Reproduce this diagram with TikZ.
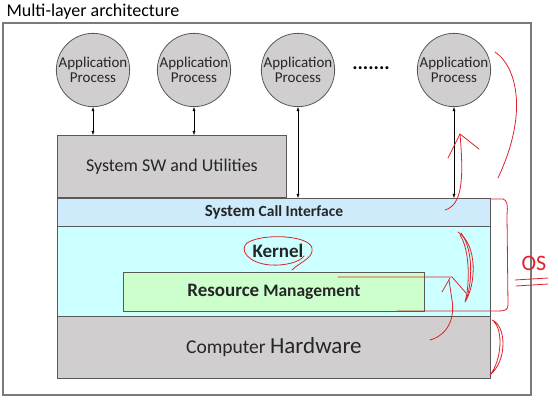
\documentclass[tikz,border=0pt]{standalone}
\usepackage{fontspec}
\setmainfont{Carlito}
\usetikzlibrary{arrows.meta}
\definecolor{boxgray}{HTML}{D0CECE}
\definecolor{callblue}{HTML}{CDEBFA}
\definecolor{kernelcyan}{HTML}{CCFFFF}
\definecolor{resgreen}{HTML}{CCFFCC}
\definecolor{edgegray}{HTML}{595959}
\definecolor{pen}{HTML}{E0202A}
\newcommand{\fs}[1]{\fontsize{#1}{#1}\selectfont}

\begin{document}
\begin{tikzpicture}[x=1pt,y=-1pt,
  proc/.style={circle,draw=edgegray,thick,fill=boxgray,minimum size=72pt,inner sep=0pt,align=center,font=\fs{15},text=black!85},
  layer/.style={draw=edgegray,thick,anchor=north west,inner sep=0pt,text=black!85},
  hand/.style={pen,line width=0.8pt,line cap=round,line join=round}]
\useasboundingbox (0,0) rectangle (558,406);

\node[anchor=west,font=\fs{18}] (title) at (3,12) {Multi-layer architecture};
\draw[edgegray!80,line width=1.4pt] (3,23) rectangle (531,395);

% layers
\node[layer,fill=boxgray,minimum width=229pt,minimum height=62pt,font=\fs{18}] (sw) at (57,135) {System SW and Utilities};
\node[layer,fill=callblue,minimum width=433pt,minimum height=28pt] (sci) at (57,198)
  {\bfseries\fs{15.5}{\fs{17}System} Call Interface};
\node[layer,fill=kernelcyan,minimum width=433pt,minimum height=90pt] (kern) at (57,226) {};
\node[font=\fs{19}\bfseries,text=black!85] (klabel) at (278,251) {Kernel};
\node[layer,fill=resgreen,minimum width=301pt,minimum height=39pt] (res) at (123,272)
  {\bfseries\fs{17.5}{\fs{19}Resource} Management};
\node[layer,fill=boxgray,minimum width=433pt,minimum height=62pt] (hw) at (57,316)
  {\fs{19.5}Computer {\fs{23}Hardware}};

% processes
\foreach \i/\x in {1/93,2/194,3/298,4/454}{
  \node[proc] (p\i) at (\x,70) {Application\\Process};
}
\node[font=\fs{20}\bfseries] (dots) at (371,68) {.......};

\foreach \i in {1,2}{
  \draw[{Latex[length=4pt,width=3pt]}-{Latex[length=4pt,width=3pt]}] (p\i.south) -- (p\i.south |- sw.north);
}
\foreach \i in {3,4}{
  \draw[{Latex[length=4pt,width=3pt]}-{Latex[length=4pt,width=3pt]}] (p\i.south) -- (p\i.south |- sci.north);
}

% hand notes
\draw[hand] (292,270) .. controls (300,262) and (314,258) .. (312,248) .. controls (309,235) and (262,233) .. (247,243) .. controls (239,250) and (248,263) .. (270,265) .. controls (285,266) and (300,262) .. (304,256);
\draw[hand] (495,52) .. controls (515,65) and (530,110) .. (498,178);
\draw[hand] (445,210) .. controls (462,205) and (464,180) .. (460,134);
\draw[hand] (448,158) -- (460,134) -- (479,149);
\draw[hand] (490,199) -- (503,199) .. controls (507,200) and (508,205) .. (507,215) -- (508,305) .. controls (508,310) and (505,311) .. (498,311) -- (397,311);
\draw[hand] (338,277) -- (452,277) -- (466,293);
\draw[hand] (430,340) .. controls (448,335) and (455,318) .. (452,300) -- (449,280);
\draw[hand] (442,292) -- (450,278);
\draw[hand] (458,232) .. controls (478,245) and (476,285) .. (465,302) .. controls (470,285) and (470,250) .. (460,235);
\draw[hand] (461,233) .. controls (474,250) and (472,285) .. (466,300);
\draw[hand] (492,320) .. controls (506,325) and (508,360) .. (490,375) .. controls (502,360) and (503,330) .. (494,322);
\node[pen,font=\fs{22}] (os) at (534,263) {OS};
\draw[hand] (515,280) -- (548,278);
\draw[hand] (516,286) -- (548,284);
\end{tikzpicture}
\end{document}
